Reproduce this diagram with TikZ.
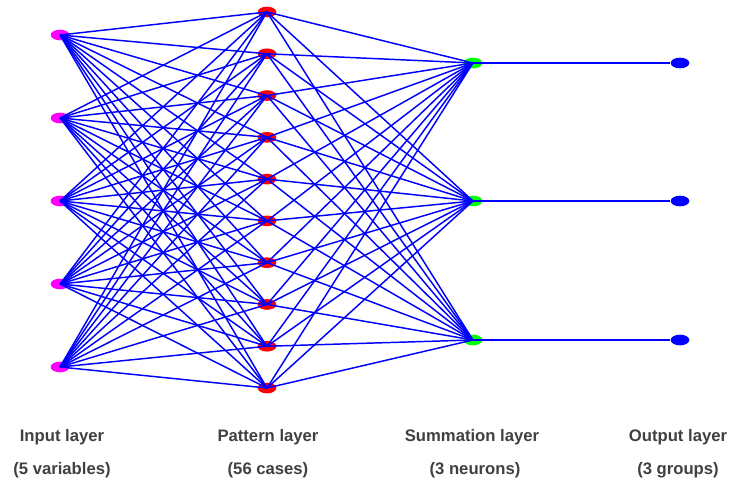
\documentclass[tikz,border=0pt]{standalone}
\usepackage{fontspec}
\setmainfont{Liberation Sans}
\usetikzlibrary{shapes.geometric}

\definecolor{labelgray}{RGB}{64,64,64}
\definecolor{inmag}{RGB}{255,0,255}
\definecolor{patred}{RGB}{255,0,0}
\definecolor{sumgreen}{RGB}{0,255,0}
\definecolor{netblue}{RGB}{0,0,255}
\tikzset{
  neuron/.style={ellipse, inner sep=0pt, minimum width=14pt, minimum height=8pt},
  inneuron/.style={neuron, fill=inmag},
  patneuron/.style={neuron, fill=patred},
  sumneuron/.style={neuron, fill=sumgreen},
  outneuron/.style={neuron, fill=netblue},
  link/.style={netblue, line width=1.1pt},
  layerlabel/.style={text=labelgray, font=\fontsize{12.5}{15}\selectfont\bfseries, inner sep=0.75pt}
}

\begin{document}
\begin{tikzpicture}[x=0.75pt,y=0.75pt,yscale=-1,xscale=1]
\useasboundingbox (0,0) rectangle (732,489);

% neurons
\foreach \i/\y in {1/35,2/118,3/201,4/284,5/367}
  \node [inneuron] (in\i) at (60,\y) {};
\foreach \i in {1,...,10}
  \node [patneuron] (pat\i) at (267,{12+(\i-1)*41.78}) {};
\foreach \i/\y in {1/63,2/201,3/340} {
  \node [sumneuron] (sum\i) at (473,\y) {};
  \node [outneuron] (out\i) at (680,\y) {};
}

% connections
\foreach \i in {1,...,5}
  \foreach \j in {1,...,10}
    \draw [link] (in\i.center) -- (pat\j.center);
\foreach \j in {1,...,10}
  \foreach \k in {1,2,3}
    \draw [link] (pat\j.center) -- (sum\k.center);
\foreach \k in {1,2,3}
  \draw [link] (sum\k.center) -- (out\k.west);

% Text Node
\node [layerlabel] (lin) at (62,437) {Input layer};
\node [layerlabel] (lin2) at (62,470) {(5 variables)};
\node [layerlabel] (lpat) at (268,437) {Pattern layer};
\node [layerlabel] (lpat2) at (268,470) {(56 cases)};
\node [layerlabel] (lsum) at (472,437) {Summation layer};
\node [layerlabel] (lsum2) at (475,470) {(3 neurons)};
\node [layerlabel] (lout) at (678,437) {Output layer};
\node [layerlabel] (lout2) at (678,470) {(3 groups)};

\end{tikzpicture}
\end{document}
